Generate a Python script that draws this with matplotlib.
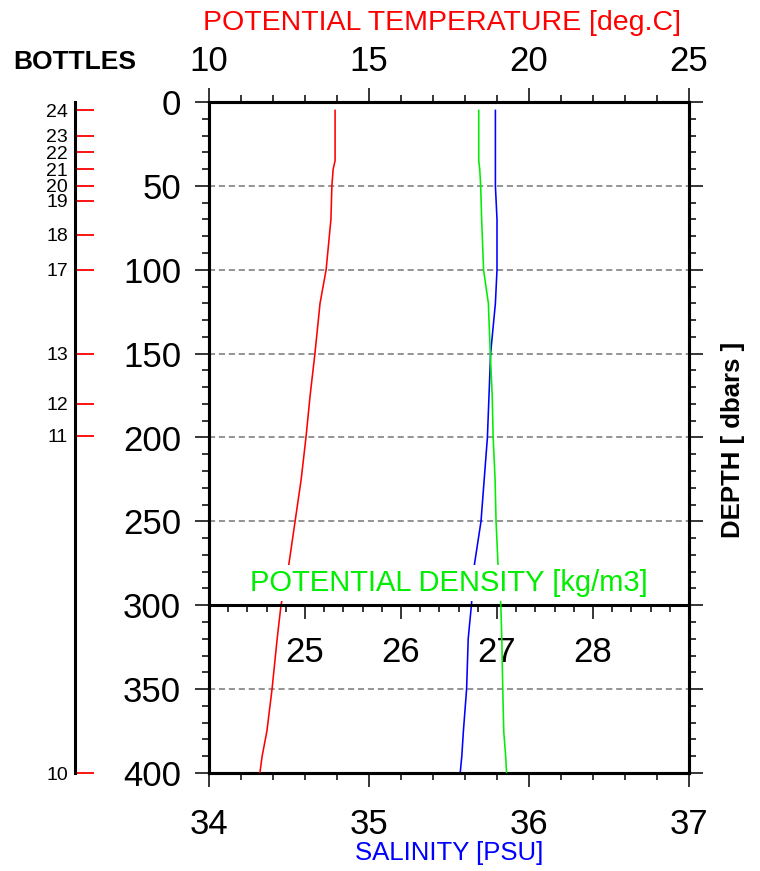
import matplotlib
matplotlib.use('Agg')
import matplotlib.pyplot as plt
from matplotlib.ticker import MultipleLocator, FixedLocator

plt.rcParams['font.family'] = ['Liberation Sans', 'DejaVu Sans']

# profile data
depth = [5, 35, 40, 50, 70, 100, 120, 150, 175, 200, 225, 250, 275, 300, 320, 350, 375, 390, 400]
temp = [13.94, 13.94, 13.88, 13.84, 13.81, 13.66, 13.47, 13.31, 13.16, 13.03, 12.88, 12.69, 12.50,
        12.25, 12.13, 11.97, 11.81, 11.66, 11.59]
salt = [35.79, 35.79, 35.79, 35.79, 35.80, 35.80, 35.79, 35.76, 35.75, 35.74, 35.72, 35.70, 35.66,
        35.64, 35.62, 35.61, 35.59, 35.58, 35.57]
dens = [26.81, 26.81, 26.82, 26.83, 26.84, 26.86, 26.91, 26.93, 26.95, 26.96, 26.98, 26.99, 27.01,
        27.04, 27.05, 27.06, 27.07, 27.09, 27.10]

# bottle trip depths
bottle_ids = ['24', '23', '22', '21', '20', '19', '18', '17', '13', '12', '11', '10']
bottle_depths = [5, 20, 30, 40, 50, 59, 79, 100, 150, 180, 199, 400]

SPINE_W = 2.2
TICK_W = 1.1
BIG = 25
LW = 1.15

fig = plt.figure(figsize=(7.6, 8.71), dpi=100)
left, bottom = 209 / 760, 1 - 773 / 871
width, height = 480 / 760, 671 / 871
ax = fig.add_axes([left, bottom, width, height])

# salinity (bottom axis)
ax.plot(salt, depth, color='blue', lw=LW, zorder=3)
ax.set_xlim(34, 37)
ax.set_ylim(400, 0)
ax.xaxis.set_major_locator(MultipleLocator(1))
ax.xaxis.set_minor_locator(MultipleLocator(0.2))
ax.yaxis.set_major_locator(MultipleLocator(50))
ax.yaxis.set_minor_locator(MultipleLocator(10))
ax.tick_params(axis='both', which='both', direction='out', width=TICK_W, labelsize=BIG)
ax.tick_params(axis='both', which='major', length=10)
ax.tick_params(axis='both', which='minor', length=5)
ax.tick_params(axis='y', which='both', left=True, right=True, labelleft=True, labelright=False)
ax.tick_params(axis='y', pad=10)
ax.tick_params(axis='x', pad=15)
ax.grid(axis='y', which='major', linestyle=(0, (4, 2.5)), color='#777777', lw=1.1)
for s in ax.spines.values():
    s.set_linewidth(SPINE_W)
ax.set_xlabel('SALINITY [PSU]', color='blue', fontsize=18.5, labelpad=0)

# potential temperature (top axis)
ax_t = ax.twiny()
ax_t.plot(temp, depth, color='red', lw=LW, zorder=3)
ax_t.set_xlim(10, 25)
ax_t.xaxis.set_major_locator(MultipleLocator(5))
ax_t.xaxis.set_minor_locator(MultipleLocator(1))
ax_t.tick_params(axis='x', which='both', direction='out', width=TICK_W, labelsize=BIG, pad=7)
ax_t.tick_params(axis='x', which='major', length=10)
ax_t.tick_params(axis='x', which='minor', length=5)
ax_t.set_xlabel('POTENTIAL TEMPERATURE [deg.C]', color='red', fontsize=20.5)
ax_t.xaxis.set_label_coords(0.485, 1.107)
for s in ax_t.spines.values():
    s.set_linewidth(SPINE_W)

# potential density (axis drawn across the plot at 300 dbar)
ax_d = ax.twiny()
ax_d.plot(dens, depth, color='#00ee00', lw=LW, zorder=3)
ax_d.set_xlim(24, 29)
ax_d.xaxis.tick_bottom()
ax_d.spines['bottom'].set_position(('data', 300))
ax_d.spines['bottom'].set_linewidth(SPINE_W)
for k in ['top', 'left', 'right']:
    ax_d.spines[k].set_visible(False)
ax_d.xaxis.set_major_locator(FixedLocator([25, 26, 27, 28]))
ax_d.xaxis.set_minor_locator(MultipleLocator(0.2))
ax_d.tick_params(axis='x', which='both', direction='out', width=TICK_W, labelsize=BIG, pad=12)
ax_d.tick_params(axis='x', which='major', length=10)
ax_d.tick_params(axis='x', which='minor', length=5)
ax_d.text(0.5, 286.5, 'POTENTIAL DENSITY [kg/m3]', color='#00ee00', fontsize=21,
          ha='center', va='center', transform=ax_d.get_yaxis_transform(), zorder=10,
          bbox=dict(facecolor='white', edgecolor='none', pad=3))

# bottle axis on the left
ax_b = fig.add_axes([75 / 760, bottom, 0.05, height])
ax_b.set_ylim(400, 0)
ax_b.set_xlim(0, 1)
for k in ['top', 'bottom', 'right']:
    ax_b.spines[k].set_visible(False)
ax_b.spines['left'].set_linewidth(SPINE_W)
ax_b.patch.set_visible(False)
ax_b.set_xticks([])
ax_b.set_yticks(bottle_depths)
ax_b.set_yticklabels(bottle_ids)
ax_b.tick_params(axis='y', direction='in', length=14, width=1.3, color='red',
                 labelsize=14, pad=5)
fig.text(75 / 760, 1 - 62 / 871, 'BOTTLES', fontsize=19, fontweight='bold',
         ha='center', va='center')

fig.text(733 / 760, 1 - 440 / 871, 'DEPTH [ dbars ]', fontsize=18.5, fontweight='bold',
         rotation=90, ha='center', va='center')

fig.savefig('out.png', dpi=100)
